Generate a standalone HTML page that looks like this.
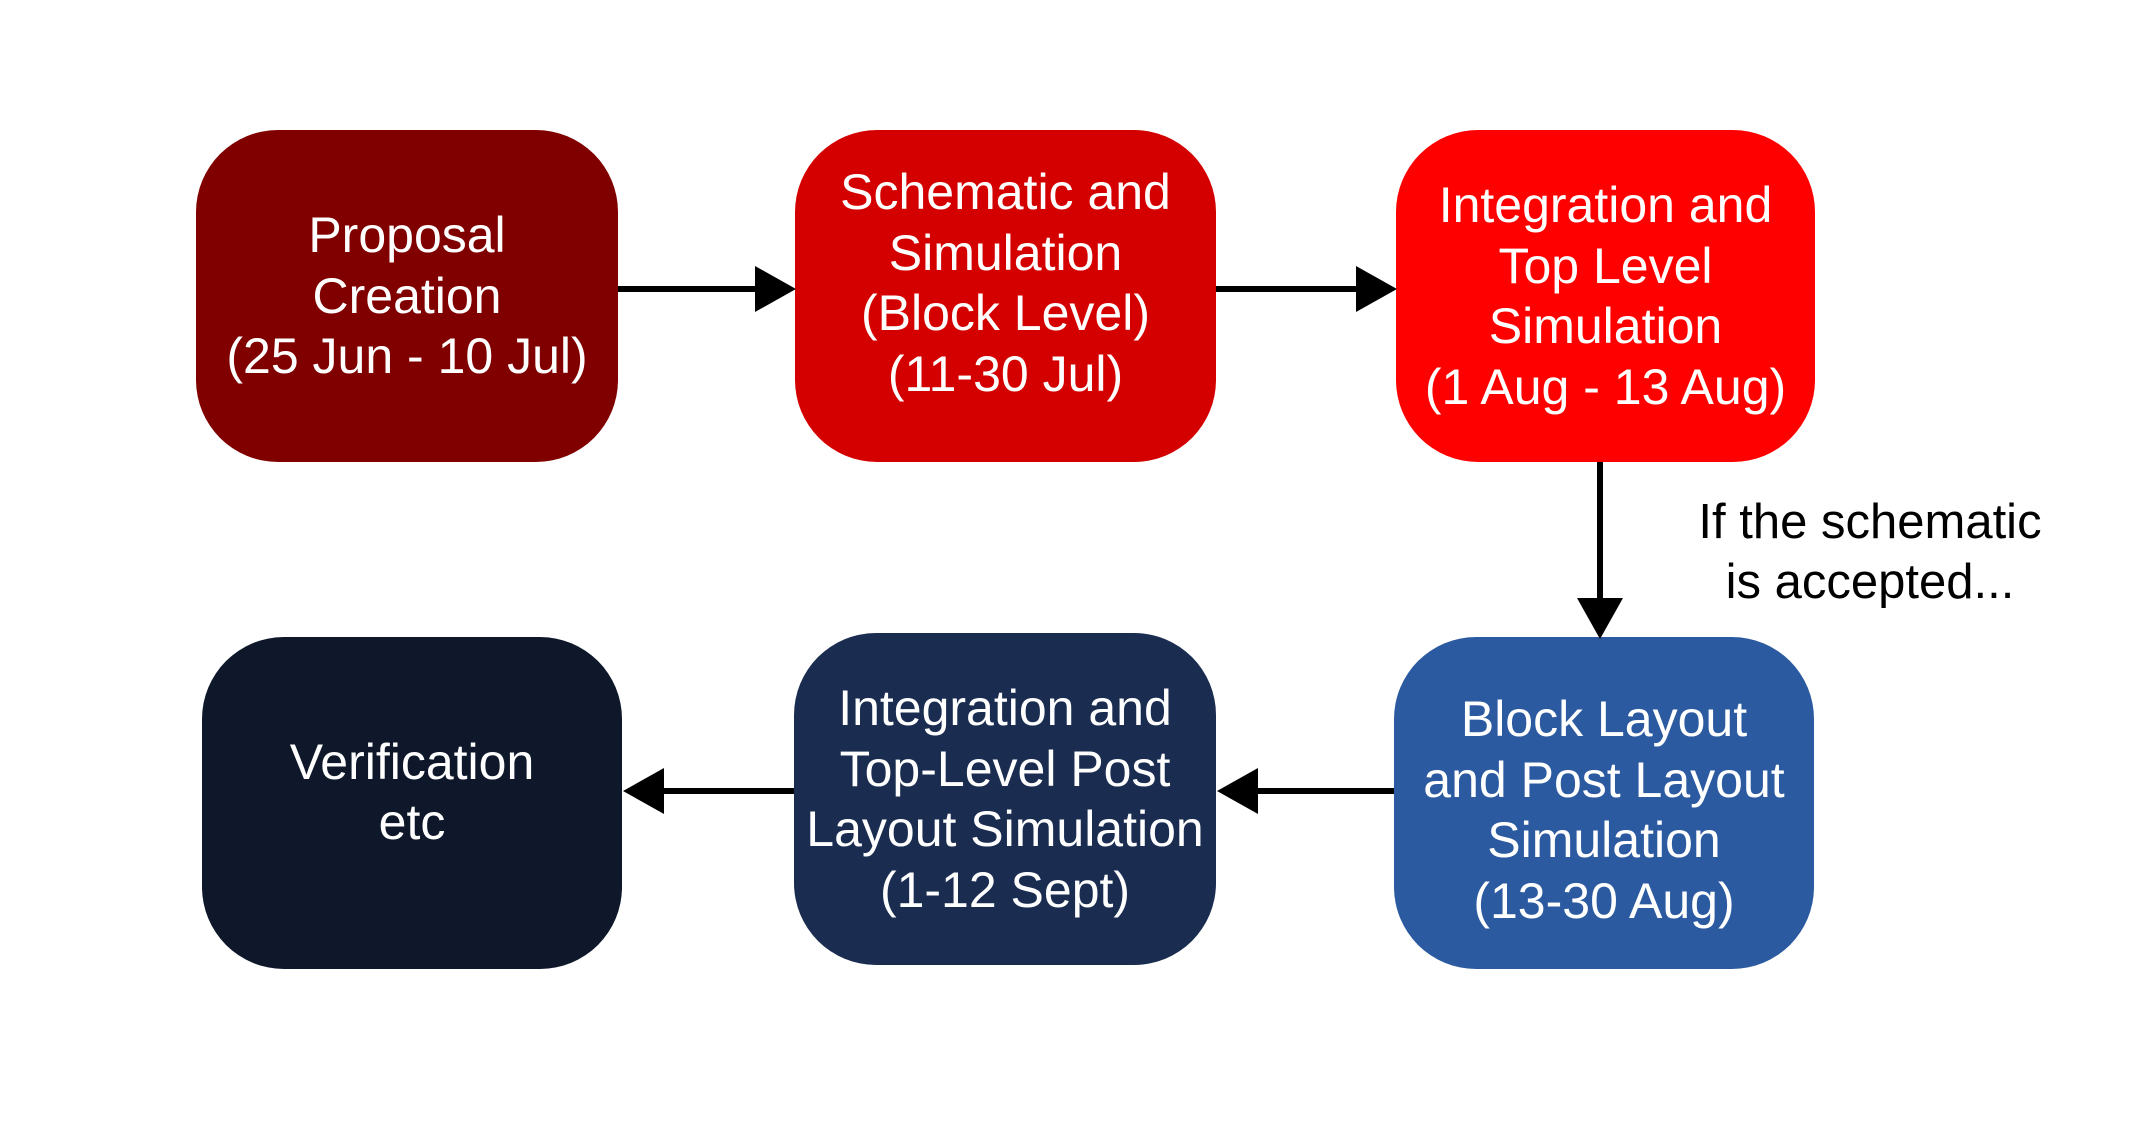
<!DOCTYPE html>
<html><head><meta charset="utf-8"><style>
body{margin:0;width:2139px;height:1121px;background:#fff;position:relative;overflow:hidden;font-family:"Liberation Sans",sans-serif}
.b{position:absolute;border-radius:82px;color:#fff;display:flex;align-items:center;justify-content:center;text-align:center;font-size:50px;line-height:60.5px;white-space:nowrap;box-sizing:border-box}
.l{position:absolute;font-size:49px;line-height:60px;text-align:center;color:#000}
</style></head><body>
<div class="b" style="left:196px;top:130px;width:422px;height:332px;background:#800000">Proposal<br>Creation<br>(25 Jun - 10 Jul)</div>
<div class="b" style="left:795px;top:130px;width:421px;height:332px;background:#d40000;padding-bottom:26px">Schematic and<br>Simulation<br>(Block Level)<br>(11-30 Jul)</div>
<div class="b" style="left:1396px;top:130px;width:419px;height:332px;background:#ff0000">Integration and<br>Top Level<br>Simulation<br>(1 Aug - 13 Aug)</div>
<div class="b" style="left:202px;top:637px;width:420px;height:332px;background:#0e182a;padding-bottom:22px">Verification<br>etc</div>
<div class="b" style="left:794px;top:633px;width:422px;height:332px;background:#1a2d50">Integration and<br>Top-Level Post<br>Layout Simulation<br>(1-12 Sept)</div>
<div class="b" style="left:1394px;top:637px;width:420px;height:332px;background:#2c5aa0;padding-top:14px">Block Layout<br>and Post Layout<br>Simulation<br>(13-30 Aug)</div>
<div class="l" style="left:1660px;top:492px;width:420px">If the schematic<br>is accepted...</div>
<svg width="2139" height="1121" style="position:absolute;left:0;top:0">
<g stroke="#000" stroke-width="6">
<line x1="618" y1="289" x2="758" y2="289"/>
<line x1="1216" y1="289" x2="1358" y2="289"/>
<line x1="1600" y1="462" x2="1600" y2="600"/>
<line x1="1394" y1="791" x2="1256" y2="791"/>
<line x1="794" y1="791" x2="662" y2="791"/>
</g>
<g fill="#000">
<polygon points="755,266 796,289 755,312"/>
<polygon points="1356,266 1397,289 1356,312"/>
<polygon points="1577,598 1623,598 1600,639"/>
<polygon points="1258,768 1217,791 1258,814"/>
<polygon points="664,768 623,791 664,814"/>
</g>
</svg>
</body></html>
